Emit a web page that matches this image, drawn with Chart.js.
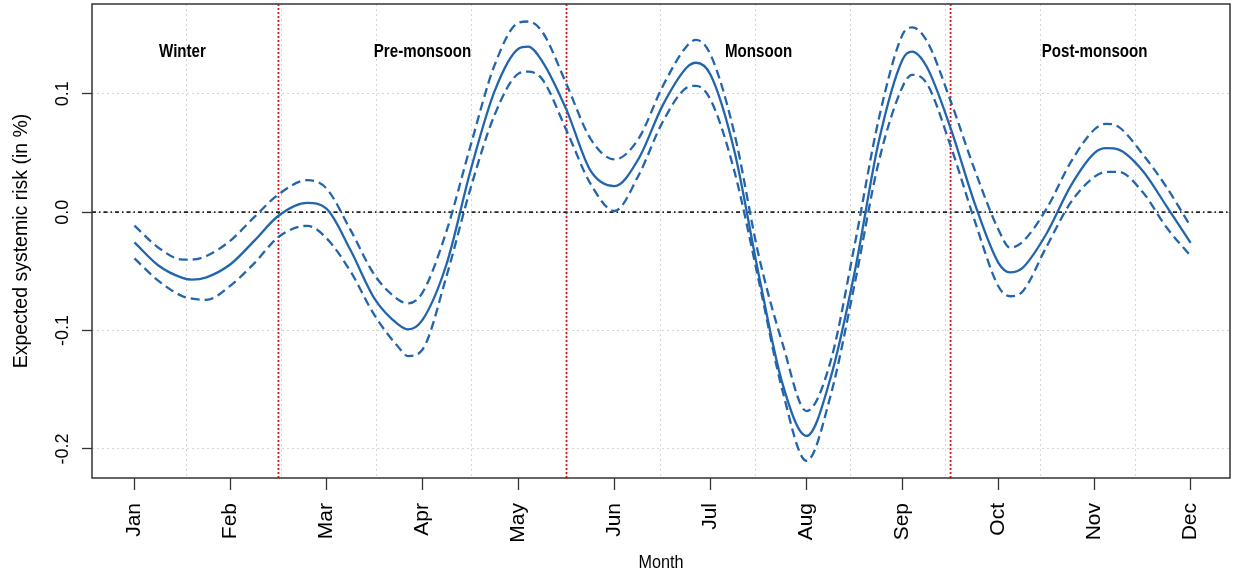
<!DOCTYPE html>
<html lang="en">
<head>
    <meta charset="UTF-8">
    <title>Expected systemic risk by month</title>
    <script src="https://cdn.jsdelivr.net/npm/chart.js@4"></script>
    <style>
        html, body { margin: 0; padding: 0; background: #fff; }
        #riskChart { display: block; }
    </style>
</head>
<body>
<canvas id="riskChart" width="1238" height="575"></canvas>

<script>
    // month labels, placed at 1..12 on the x scale
    const months = ['Jan', 'Feb', 'Mar', 'Apr', 'May', 'Jun', 'Jul', 'Aug', 'Sep', 'Oct', 'Nov', 'Dec'];

    // sample positions (in month units)
    const samplePos = [1, 1.25, 1.5, 1.6, 1.75, 2, 2.25, 2.5, 2.8, 3, 3.25, 3.5, 3.75, 3.85, 4, 4.25, 4.5, 4.75,
        5, 5.1, 5.25, 5.5, 5.75, 6, 6.25, 6.5, 6.75, 6.85, 7, 7.25, 7.5, 7.75, 8, 8.25, 8.5, 8.75,
        9, 9.1, 9.25, 9.5, 9.75, 10, 10.12, 10.25, 10.5, 10.75, 11, 11.12, 11.25, 11.5, 11.75, 12];

    const meanRisk = [-0.0255, -0.045, -0.0555, -0.057, -0.055, -0.044, -0.024, -0.003, 0.0078, 0.003, -0.032, -0.073, -0.095, -0.099, -0.091, -0.044, 0.035, 0.102,
        0.138, 0.1398, 0.127, 0.0864, 0.035, 0.022, 0.045, 0.090, 0.122, 0.1262, 0.116, 0.051, -0.052, -0.145, -0.189, -0.140, -0.051, 0.059,
        0.129, 0.1356, 0.123, 0.071, 0.0077, -0.043, -0.0508, -0.047, -0.018, 0.022, 0.050, 0.054, 0.0528, 0.035, 0.0049, -0.026];

    const upperRisk = [-0.0114, -0.030, -0.040, -0.040, -0.037, -0.024, -0.004, 0.015, 0.027, 0.020, -0.015, -0.053, -0.074, -0.077, -0.068, -0.016, 0.056, 0.124,
        0.160, 0.161, 0.152, 0.108, 0.062, 0.0445, 0.062, 0.106, 0.140, 0.1455, 0.133, 0.066, -0.036, -0.111, -0.168, -0.126, -0.028, 0.078,
        0.150, 0.156, 0.145, 0.094, 0.036, -0.015, -0.030, -0.025, 0.003, 0.042, 0.070, 0.0746, 0.072, 0.049, 0.021, -0.012];

    const lowerRisk = [-0.039, -0.058, -0.071, -0.073, -0.074, -0.062, -0.043, -0.021, -0.0115, -0.022, -0.050, -0.087, -0.114, -0.1215, -0.116, -0.054, 0.020, 0.082,
        0.117, 0.1187, 0.112, 0.069, 0.024, 0.001, 0.031, 0.076, 0.105, 0.1067, 0.095, 0.034, -0.057, -0.151, -0.210, -0.155, -0.061, 0.042,
        0.106, 0.116, 0.109, 0.056, -0.007, -0.063, -0.071, -0.067, -0.029, 0.008, 0.030, 0.034, 0.034, 0.017, -0.013, -0.037];

    const yTicks = [-0.2, -0.1, 0.0, 0.1];
    const yTickLabels = ['-0.2', '-0.1', '0.0', '0.1'];

    const seasonNames = ['Winter', 'Pre-monsoon', 'Monsoon', 'Post-monsoon'];
    const seasonLabelPos = [1.5, 4.0, 7.5, 11.0];
    const seasonBreaks = [2.5, 5.5, 9.5];

    const X_MIN = 0.558, X_MAX = 12.41;
    const Y_MIN = -0.2245, Y_MAX = 0.1758;
    const BLUE = '#2265ab';

    Chart.defaults.font.family = "'Liberation Sans', Arial, sans-serif";

    const toPoints = (ys) => samplePos.map((x, i) => ({ x, y: ys[i] }));

    const breakLines = [];
    seasonBreaks.forEach(b => {
        breakLines.push({ x: b, y: Y_MIN }, { x: b, y: Y_MAX }, { x: b, y: null });
    });

    // light dotted grid splitting the plot width into 12 equal cells
    const gridCells = 12;
    const gridX = [];
    for (let k = 1; k < gridCells; k++) gridX.push(X_MIN + k * (X_MAX - X_MIN) / gridCells);

    const textPlugin = {
        id: 'rText',
        afterDraw(chart) {
            const { ctx, chartArea: a } = chart;
            const xs = chart.scales.x, ys = chart.scales.y;
            ctx.save();

            // frame
            ctx.strokeStyle = '#333';
            ctx.lineWidth = 1.5;
            ctx.strokeRect(a.left, a.top, a.right - a.left, a.bottom - a.top);

            ctx.fillStyle = '#000';

            // y tick labels, rotated
            ctx.font = "18px 'Liberation Sans', Arial, sans-serif";
            ctx.textAlign = 'center';
            ctx.textBaseline = 'alphabetic';
            yTicks.forEach((v, i) => {
                ctx.save();
                ctx.translate(68, ys.getPixelForValue(v));
                ctx.rotate(-Math.PI / 2);
                ctx.fillText(yTickLabels[i], 0, 0);
                ctx.restore();
            });

            // x tick labels, rotated
            ctx.font = "21px 'Liberation Sans', Arial, sans-serif";
            ctx.textAlign = 'right';
            ctx.textBaseline = 'middle';
            months.forEach((m, i) => {
                ctx.save();
                ctx.translate(xs.getPixelForValue(i + 1), a.bottom + 25);
                ctx.rotate(-Math.PI / 2);
                ctx.fillText(m, 0, 0);
                ctx.restore();
            });

            // y title
            ctx.font = "19.5px 'Liberation Sans', Arial, sans-serif";
            ctx.textAlign = 'center';
            ctx.textBaseline = 'alphabetic';
            ctx.save();
            ctx.translate(27, (a.top + a.bottom) / 2);
            ctx.rotate(-Math.PI / 2);
            ctx.fillText('Expected systemic risk (in %)', 0, 0);
            ctx.restore();

            // x title (narrow face)
            ctx.save();
            ctx.font = "18px 'Liberation Sans', Arial, sans-serif";
            ctx.translate((a.left + a.right) / 2, 568);
            ctx.scale(0.9, 1);
            ctx.fillText('Month', 0, 0);
            ctx.restore();

            // season labels (bold, narrow)
            ctx.font = "bold 18px 'Liberation Sans', Arial, sans-serif";
            seasonNames.forEach((s, i) => {
                ctx.save();
                ctx.translate(xs.getPixelForValue(seasonLabelPos[i]), ys.getPixelForValue(0.131));
                ctx.scale(0.84, 1);
                ctx.fillText(s, 0, 0);
                ctx.restore();
            });

            ctx.restore();
        }
    };

    const ctx = document.getElementById('riskChart').getContext('2d');

    new Chart(ctx, {
        type: 'line',
        data: {
            datasets: [
                {
                    label: 'mean',
                    data: toPoints(meanRisk),
                    borderColor: BLUE,
                    borderWidth: 2.3,
                    cubicInterpolationMode: 'monotone'
                },
                {
                    label: 'upper',
                    data: toPoints(upperRisk),
                    borderColor: BLUE,
                    borderWidth: 2.3,
                    borderDash: [9, 5],
                    cubicInterpolationMode: 'monotone'
                },
                {
                    label: 'lower',
                    data: toPoints(lowerRisk),
                    borderColor: BLUE,
                    borderWidth: 2.3,
                    borderDash: [9, 5],
                    cubicInterpolationMode: 'monotone'
                },
                {
                    label: 'zero',
                    data: [{ x: X_MIN, y: 0 }, { x: X_MAX, y: 0 }],
                    borderColor: '#222',
                    borderWidth: 1.8,
                    borderDash: [4, 3, 1.5, 3]
                },
                {
                    label: 'seasons',
                    data: breakLines,
                    borderColor: '#e8101a',
                    borderWidth: 1.8,
                    borderDash: [2, 2],
                    spanGaps: false
                }
            ]
        },
        options: {
            responsive: false,
            animation: false,
            devicePixelRatio: 1,
            layout: { padding: { left: 0, right: 8, top: 4, bottom: 0 } },
            elements: { point: { radius: 0 }, line: { fill: false } },
            plugins: { legend: { display: false }, tooltip: { enabled: false } },
            scales: {
                x: {
                    type: 'linear',
                    position: 'bottom',
                    min: X_MIN,
                    max: X_MAX,
                    afterBuildTicks: (s) => { s.ticks = months.map((m, i) => ({ value: i + 1 })); },
                    afterFit: (s) => { s.height = 97; },
                    ticks: { display: false },
                    border: { display: false },
                    grid: {
                        drawOnChartArea: false,
                        drawTicks: true,
                        tickLength: 12,
                        tickColor: '#333',
                        tickWidth: 1.3
                    }
                },
                xg: {
                    type: 'linear',
                    position: 'top',
                    min: X_MIN,
                    max: X_MAX,
                    afterBuildTicks: (s) => { s.ticks = gridX.map(v => ({ value: v })); },
                    afterFit: (s) => { s.height = 0; },
                    ticks: { display: false },
                    border: { display: false, dash: [2, 3] },
                    grid: { color: '#d6d6d6', lineWidth: 1, drawTicks: false }
                },
                y: {
                    type: 'linear',
                    min: Y_MIN,
                    max: Y_MAX,
                    afterBuildTicks: (s) => { s.ticks = yTicks.map(v => ({ value: v })); },
                    afterFit: (s) => { s.width = 92; },
                    ticks: { display: false },
                    border: { display: false, dash: [2, 3] },
                    grid: {
                        color: '#d6d6d6',
                        lineWidth: 1,
                        drawTicks: true,
                        tickLength: 10,
                        tickColor: '#333',
                        tickWidth: 1.3,
                        tickBorderDash: []
                    }
                }
            }
        },
        plugins: [textPlugin]
    });
</script>

</body>
</html>
